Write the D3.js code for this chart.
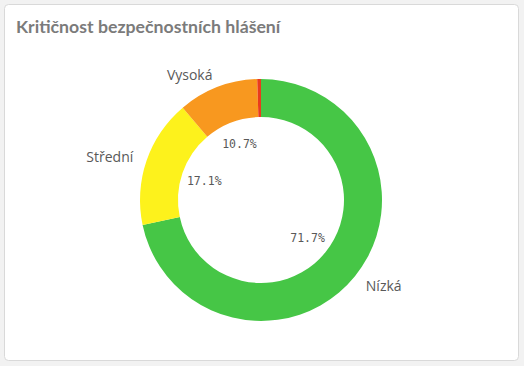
<!DOCTYPE html>
<html lang="cs"><head><meta charset="UTF-8">
<title>Kritičnost bezpečnostních hlášení</title>
<script src="https://d3js.org/d3.v7.min.js"></script>
<style type="text/css">
  body { margin: 0; background: #f2f2f2; }
</style>
</head>
<body>
<script type="text/javascript">

var w = 524;
var h = 366;

// data
var categories = ["Nízká", "Střední", "Vysoká", "Kritická"];
var shares = [71.7, 17.1, 10.7, 0.5];
var colors = ["#46c646", "#fdf21c", "#f8981f", "#ea3b1c"];

var cx = 261, cy = 200;
var outerR = 121, innerR = 83;

var svg = d3.select("body")
            .append("svg")
            .attr("width", w)
            .attr("height", h);

// card
svg.append("rect")
   .attr("x", 4.5).attr("y", 4.5)
   .attr("width", 514).attr("height", 356)
   .attr("rx", 4)
   .attr("fill", "#ffffff")
   .attr("stroke", "#d9d9d9");

svg.append("text")
   .attr("x", 16)
   .attr("y", 33)
   .attr("font-family", "Lato, sans-serif")
   .attr("font-weight", "bold")
   .attr("font-size", "17.7px")
   .attr("fill", "#7b7b7b")
   .text("Kritičnost bezpečnostních hlášení");

var data = categories.map(function(c, i) {
    return {name: c, value: shares[i], color: colors[i]};
});

var pie = d3.pie()
            .sort(null)
            .value(function(d) { return d.value; });

var arc = d3.arc().innerRadius(innerR).outerRadius(outerR);
var pctArc = d3.arc().innerRadius(60).outerRadius(60);
var nameArc = d3.arc().innerRadius(135).outerRadius(135);

var g = svg.append("g")
           .attr("transform", "translate(" + cx + "," + cy + ")");

var arcs = pie(data);

g.selectAll("path")
 .data(arcs)
 .enter()
 .append("path")
 .attr("d", arc)
 .attr("fill", function(d) { return d.data.color; });

// tiny slices get no labels
var labelled = arcs.filter(function(d) { return d.data.value >= 2; });

g.selectAll("text.pct")
 .data(labelled)
 .enter()
 .append("text")
 .attr("class", "pct")
 .attr("x", function(d) { return pctArc.centroid(d)[0]; })
 .attr("y", function(d) { return pctArc.centroid(d)[1]; })
 .attr("text-anchor", "middle")
 .attr("dominant-baseline", "central")
 .attr("font-family", "'DejaVu Sans Mono', monospace")
 .attr("font-size", "11.5px")
 .attr("fill", "#595959")
 .text(function(d) { return d.data.value.toFixed(1) + "%"; });

g.selectAll("text.name")
 .data(labelled)
 .enter()
 .append("text")
 .attr("class", "name")
 .attr("x", function(d) { return nameArc.centroid(d)[0]; })
 .attr("y", function(d) { return nameArc.centroid(d)[1]; })
 .attr("text-anchor", function(d) { return nameArc.centroid(d)[0] < 0 ? "end" : "start"; })
 .attr("dominant-baseline", "central")
 .attr("font-family", "'Open Sans', sans-serif")
 .attr("font-size", "14px")
 .attr("fill", "#595959")
 .text(function(d) { return d.data.name; });

</script>
</body>
</html>
